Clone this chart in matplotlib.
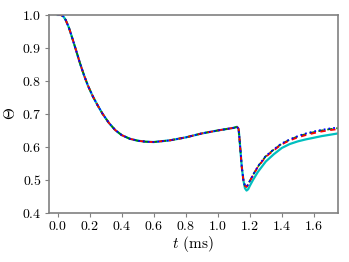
import numpy as np
import matplotlib
matplotlib.use('Agg')
import matplotlib.pyplot as plt

plt.rcParams['font.family'] = 'serif'
plt.rcParams['font.serif'] = ['cmr10']
plt.rcParams['mathtext.fontset'] = 'cm'
plt.rcParams['axes.formatter.use_mathtext'] = True

# tiempo (ms)
t = [0.0, 0.02, 0.035, 0.05, 0.07, 0.09, 0.115, 0.14, 0.165, 0.19, 0.22,
     0.25, 0.28, 0.32, 0.36, 0.40, 0.45, 0.50, 0.55, 0.60, 0.70, 0.80, 0.90,
     1.00, 1.10, 1.12, 1.13, 1.135, 1.14, 1.15, 1.16, 1.17, 1.18, 1.19, 1.20,
     1.22, 1.25, 1.30, 1.35, 1.40, 1.45, 1.50, 1.55, 1.60, 1.65, 1.70, 1.75]

# parte comun hasta la caida
comun = [1.0, 1.0, 0.996, 0.985, 0.962, 0.932, 0.893, 0.853, 0.817, 0.785,
         0.753, 0.726, 0.701, 0.673, 0.651, 0.636, 0.625, 0.619, 0.616, 0.615,
         0.620, 0.629, 0.641, 0.650, 0.658, 0.661, 0.655, 0.63, 0.60, 0.54]

theta_cyan = comun + [0.50, 0.475, 0.468, 0.472, 0.482, 0.500, 0.524, 0.556,
                      0.578, 0.597, 0.609, 0.617, 0.623, 0.628, 0.633, 0.637, 0.641]
theta_green = comun + [0.50, 0.482, 0.480, 0.487, 0.497, 0.515, 0.540, 0.572,
                       0.592, 0.610, 0.622, 0.632, 0.639, 0.645, 0.650, 0.654, 0.657]
theta_red = comun + [0.50, 0.482, 0.479, 0.486, 0.496, 0.514, 0.539, 0.570,
                     0.590, 0.608, 0.620, 0.629, 0.636, 0.642, 0.647, 0.651, 0.654]
theta_blue = comun + [0.50, 0.482, 0.480, 0.487, 0.497, 0.515, 0.541, 0.573,
                      0.593, 0.611, 0.623, 0.633, 0.641, 0.647, 0.652, 0.656, 0.659]

fig = plt.figure(figsize=(3.49, 2.62), dpi=100)
ax = fig.add_axes([0.139, 0.187, 0.829, 0.756])

ax.plot(t, theta_cyan, color='c', lw=1.6, ls='-')
ax.plot(t, theta_green, color='g', lw=1.3, ls='--', dashes=(3, 2))
ax.plot(t, theta_red, color='r', lw=1.3, ls='--', dashes=(3, 2.5))
ax.plot(t, theta_blue, color='b', lw=1.3, ls=':')

ax.set_xlim(-0.057, 1.75)
ax.set_ylim(0.4, 1.0)
ax.set_xticks(np.arange(0.0, 1.61, 0.2))
ax.set_yticks(np.arange(0.4, 1.01, 0.1))
ax.set_xlabel('$t$ (ms)', fontsize=11, labelpad=1)
ax.set_ylabel(r'$\Theta$', fontsize=11, labelpad=3)
ax.tick_params(labelsize=10, color='gray', length=3, width=0.8, pad=2)
for s in ax.spines.values():
    s.set_color('gray')
    s.set_linewidth(1.2)

fig.savefig('out.png', dpi=100)
